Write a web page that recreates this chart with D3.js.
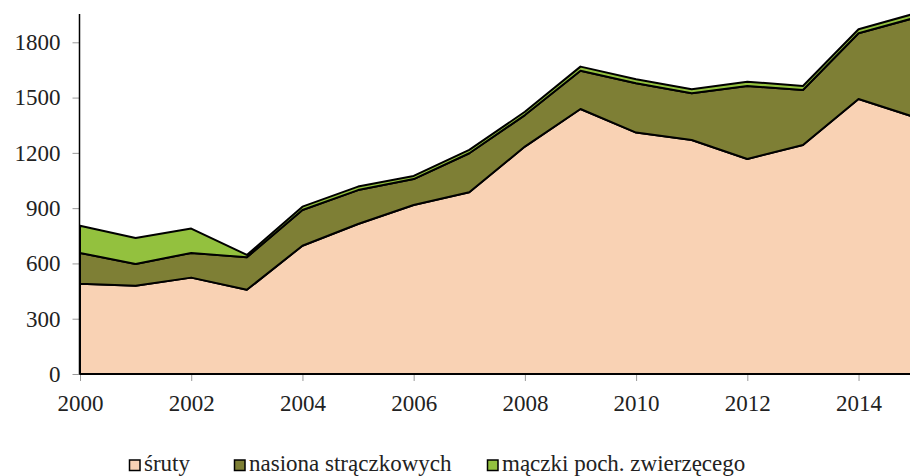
<!DOCTYPE html>
<html>
<head>
<meta charset="utf-8">
<script src="https://cdn.jsdelivr.net/npm/d3@7"></script>
<style>
  body { margin: 0; background: #fff; }
  svg { display: block; }
  svg text { font-family: "Liberation Serif", "Times New Roman", serif !important; fill: #222; }
</style>
</head>
<body>
<div id="chart"></div>
<script>
// DATA
const years   = [2000,2001,2002,2003,2004,2005,2006,2007,2008,2009,2010,2011,2012,2013,2014,2015];
const sruty   = [490,479,523,457,696,814,917,986,1234,1438,1310,1270,1167,1243,1492,1395];
const nasiona = [167,118,134,176,194,184,141,212,171,208,268,253,396,298,357,537];
const maczki  = [148,141,132,13,18,19,17,18,18,22,21,22,23,22,22,23];
const seriesNames = ["śruty", "nasiona strączkowych", "mączki poch. zwierzęcego"];
const yTicks  = [0,300,600,900,1200,1500,1800];
const xTicks  = [2000,2002,2004,2006,2008,2010,2012,2014];

const COLORS = ["#F9D2B4", "#7E7F35", "#93C13E"];
const W = 910, H = 476;

const svg = d3.select("#chart").append("svg")
  .attr("width", W).attr("height", H);

// SCALES
const x = d3.scaleLinear().domain([2000, 2015]).range([80, 80 + 15 * 55.61]);
const y = d3.scaleLinear().domain([0, 1800]).range([374, 42.3]);

// STACK
const rows = years.map((yr, i) => ({ year: yr, s0: sruty[i], s1: nasiona[i], s2: maczki[i] }));
const stacked = d3.stack().keys(["s0", "s1", "s2"])(rows);

const area = d3.area()
  .x(d => x(d.data.year))
  .y0(d => y(d[0]))
  .y1(d => y(d[1]));

svg.append("g").selectAll("path").data(stacked).join("path")
  .attr("d", area)
  .attr("fill", (d, i) => COLORS[i])
  .attr("stroke", "#000")
  .attr("stroke-width", 2)
  .attr("stroke-linejoin", "round");

// AXES
const gY = svg.append("g").attr("transform", "translate(79.5,0)")
  .call(d3.axisLeft(y).tickValues(yTicks).tickSize(7).tickPadding(12).tickFormat(d3.format("d")))
  .attr("font-size", 23);
gY.select(".domain").remove();
gY.selectAll(".tick line").attr("stroke", "#999");
svg.append("line").attr("x1", 79.5).attr("x2", 79.5).attr("y1", 14).attr("y2", 374)
  .attr("stroke", "#000").attr("stroke-width", 1.5);

const gX = svg.append("g").attr("transform", "translate(0,374)")
  .call(d3.axisBottom(x).tickValues(xTicks).tickSize(7).tickPadding(14).tickFormat(d3.format("d")))
  .attr("font-size", 23);
gX.select(".domain").remove();
gX.selectAll(".tick line").attr("stroke", "#999");
svg.append("line").attr("x1", 79.5).attr("x2", W).attr("y1", 374).attr("y2", 374)
  .attr("stroke", "#000").attr("stroke-width", 2);

// LEGEND
const legendX = [129.5, 234.5, 487.5];
const legend = svg.append("g").selectAll("g").data(seriesNames).join("g")
  .attr("transform", (d, i) => `translate(${legendX[i]},460)`);
legend.append("rect")
  .attr("width", 10.5).attr("height", 10.5)
  .attr("fill", (d, i) => COLORS[i])
  .attr("stroke", "#000").attr("stroke-width", 1.5);
legend.append("text")
  .attr("x", 14.5).attr("y", 11)
  .attr("font-size", 23)
  .text(d => d);
</script>
</body>
</html>
